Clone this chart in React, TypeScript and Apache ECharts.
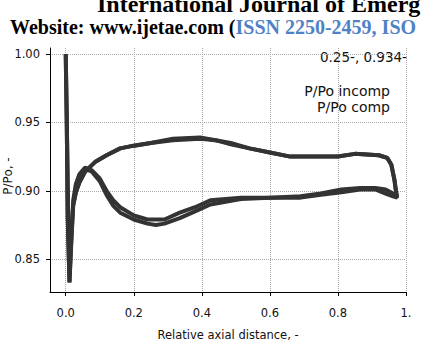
import React, { useEffect, useRef } from "react";
import * as echarts from "echarts";

// Tick values
const xTicks = [0, 0.2, 0.4, 0.6, 0.8, 1.0];
const yTicks = [0.85, 0.9, 0.95, 1.0];
const seriesNames = ["P/Po incomp", "P/Po comp"];

// Surface with the early peak and mid-chord dip (from leading edge to trailing edge)
const xDip = [0, 0.003, 0.006, 0.011, 0.016, 0.022, 0.03, 0.04, 0.057, 0.077, 0.1, 0.12, 0.14, 0.16, 0.2, 0.24, 0.265, 0.29, 0.335, 0.38, 0.425, 0.47, 0.515, 0.6, 0.69, 0.75, 0.81, 0.865, 0.91, 0.94, 0.962, 0.974];
const yDipIncomp = [1.0, 0.95, 0.88, 0.833, 0.862, 0.893, 0.905, 0.912, 0.917, 0.915, 0.909, 0.9, 0.893, 0.888, 0.882, 0.879, 0.879, 0.879, 0.884, 0.888, 0.893, 0.894, 0.895, 0.895, 0.896, 0.898, 0.901, 0.902, 0.902, 0.901, 0.898, 0.895];
const yDipComp = [1.0, 0.95, 0.88, 0.833, 0.86, 0.89, 0.903, 0.911, 0.916, 0.914, 0.907, 0.897, 0.889, 0.884, 0.879, 0.876, 0.875, 0.876, 0.88, 0.885, 0.89, 0.892, 0.894, 0.895, 0.895, 0.897, 0.899, 0.901, 0.901, 0.898, 0.896, 0.895];

// Surface with the higher plateau (from leading edge to trailing edge)
const xCrest = [0, 0.003, 0.006, 0.009, 0.013, 0.017, 0.022, 0.03, 0.04, 0.057, 0.086, 0.12, 0.16, 0.2, 0.25, 0.315, 0.395, 0.44, 0.485, 0.54, 0.6, 0.66, 0.72, 0.8, 0.85, 0.92, 0.945, 0.957, 0.966, 0.971, 0.974];
const yCrestIncomp = [1.0, 0.955, 0.9, 0.855, 0.848, 0.868, 0.89, 0.899, 0.906, 0.914, 0.921, 0.926, 0.931, 0.933, 0.935, 0.938, 0.939, 0.937, 0.935, 0.931, 0.928, 0.925, 0.925, 0.925, 0.927, 0.926, 0.924, 0.919, 0.908, 0.899, 0.895];
const yCrestComp = [1.0, 0.955, 0.9, 0.853, 0.846, 0.866, 0.889, 0.899, 0.906, 0.914, 0.921, 0.926, 0.931, 0.933, 0.935, 0.937, 0.938, 0.937, 0.934, 0.931, 0.928, 0.925, 0.925, 0.925, 0.927, 0.926, 0.924, 0.919, 0.908, 0.899, 0.895];

const cursorText = "0.25-, 0.934-";

function loop(xa: number[], ya: number[], xb: number[], yb: number[]) {
  const pts: number[][] = xa.map((x, i) => [x, ya[i]]);
  for (let i = xb.length - 1; i >= 0; i--) pts.push([xb[i], yb[i]]);
  return pts;
}

const FONT = "DejaVu Sans";

export default function App() {
  const ref = useRef<HTMLDivElement>(null);
  useEffect(() => {
    if (!ref.current) return;
    const chart = echarts.init(ref.current, null, { renderer: "svg" });
    const lineColor = "#333333";
    chart.setOption({
      animation: false,
      backgroundColor: "#ffffff",
      grid: { left: 50, right: 16, top: 48, bottom: 56 },
      xAxis: {
        type: "value",
        min: -0.0462,
        max: 1.0,
        name: "Relative axial distance, -",
        nameLocation: "middle",
        nameGap: 37,
        nameTextStyle: { fontFamily: FONT, fontSize: 11.5, color: "#111" },
        axisLine: { show: true, onZero: false, lineStyle: { color: "#000", width: 1 } },
        axisTick: { show: true, customValues: xTicks, length: 4, lineStyle: { color: "#000" } },
        axisLabel: {
          customValues: xTicks,
          margin: 15,
          fontFamily: FONT,
          fontSize: 11.5,
          color: "#111",
          formatter: (v: number) => (v === 1 ? "1." : v.toFixed(1)),
        },
        splitLine: { show: true, lineStyle: { type: "dotted", color: "#aaaaaa", width: 1 } },
      },
      yAxis: {
        type: "value",
        min: 0.826,
        max: 1.0044,
        axisLine: { show: true, onZero: false, lineStyle: { color: "#000", width: 1 } },
        axisTick: { show: true, customValues: yTicks, length: 4, lineStyle: { color: "#000" } },
        axisLabel: {
          customValues: yTicks,
          margin: 10,
          fontFamily: FONT,
          fontSize: 11.5,
          color: "#111",
          formatter: (v: number) => v.toFixed(2),
        },
        splitLine: { show: true, lineStyle: { type: "dotted", color: "#aaaaaa", width: 1 } },
      },
      series: [
        {
          name: seriesNames[0],
          type: "line",
          data: loop(xDip, yDipIncomp, xCrest, yCrestIncomp),
          showSymbol: false,
          symbol: "none",
          lineStyle: { color: lineColor, width: 4 },
        },
        {
          name: seriesNames[1],
          type: "line",
          data: loop(xDip, yDipComp, xCrest, yCrestComp),
          showSymbol: false,
          symbol: "none",
          lineStyle: { color: lineColor, width: 4 },
        },
      ],
      graphic: [
        {
          type: "text",
          x: 97,
          y: 4,
          style: {
            text: "International Journal of Emerg",
            fontFamily: "Liberation Serif",
            fontWeight: "bold",
            fontSize: 24,
            fill: "#000",
            verticalAlign: "middle",
          },
        },
        {
          type: "text",
          x: 10,
          y: 27,
          style: {
            text: "{a|Website: www.ijetae.com (}{b|ISSN 2250-2459, ISO}",
            verticalAlign: "middle",
            rich: {
              a: { fontFamily: "Liberation Serif", fontWeight: "bold", fontSize: 20, fill: "#000", color: "#000" },
              b: { fontFamily: "Liberation Serif", fontWeight: "bold", fontSize: 20, fill: "#4f81c7", color: "#4f81c7" },
            },
          },
        },
        {
          type: "text",
          x: 407,
          y: 57,
          style: { text: cursorText, fontFamily: FONT, fontSize: 13.5, fill: "#111", align: "right", verticalAlign: "middle" },
        },
        {
          type: "text",
          x: 390,
          y: 91,
          style: { text: seriesNames[0], fontFamily: FONT, fontSize: 14, fill: "#111", align: "right", verticalAlign: "middle" },
        },
        {
          type: "text",
          x: 390,
          y: 107,
          style: { text: seriesNames[1], fontFamily: FONT, fontSize: 14, fill: "#111", align: "right", verticalAlign: "middle" },
        },
        {
          type: "text",
          x: 8,
          y: 176,
          rotation: Math.PI / 2,
          style: { text: "P/Po, -", fontFamily: FONT, fontSize: 12, fill: "#111", align: "center", verticalAlign: "middle" },
        },
      ],
    });
    return () => chart.dispose();
  }, []);
  return <div ref={ref} style={{ position: "absolute", left: 0, top: 0, width: 422, height: 348 }} />;
}
